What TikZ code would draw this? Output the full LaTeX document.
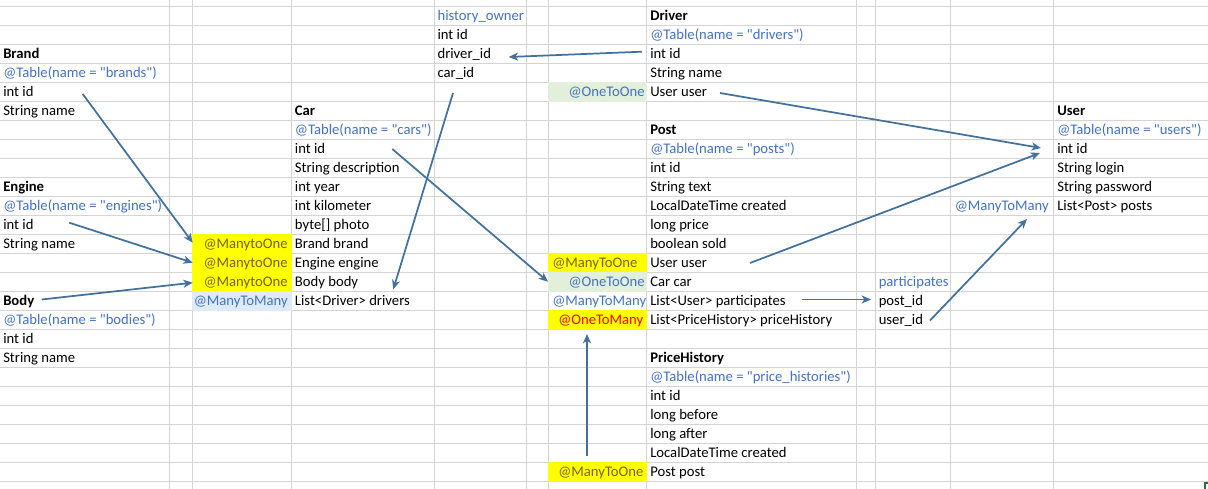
\documentclass[tikz,border=0pt]{standalone}
\usepackage{fontspec}
\setmainfont{Carlito}[Ligatures=TeXOff]
\usetikzlibrary{arrows.meta}
\definecolor{annblue}{RGB}{68,114,196}
\definecolor{arrowblue}{RGB}{65,113,156}
\definecolor{gridgray}{RGB}{212,212,212}
\definecolor{mtotext}{RGB}{128,96,0}
\definecolor{cellyellow}{RGB}{255,255,0}
\definecolor{cellgreen}{RGB}{226,239,218}
\definecolor{cellblue}{RGB}{221,235,247}
\definecolor{selgreen}{RGB}{33,115,70}
\newcommand\cellt[5]{\node[txt,#1] (#2) at ({#3},{20.7+19*#4}) {#5};}
\newcommand\cellfill[4]{\fill[#1] ({#2-0.5},{6+19*#4-0.5}) rectangle ({#3+0.5},{25+19*#4+0.5});}
\begin{document}
\begin{tikzpicture}[x=0.75pt,y=-0.75pt,
  txt/.style={anchor=base west, inner sep=0pt, font=\fontsize{11}{13}\selectfont},
  hdr/.style={font=\fontsize{11}{13}\selectfont\bfseries},
  ann/.style={text=annblue},
  mto/.style={text=mtotext},
  otm/.style={text=red},
  gridline/.style={draw=gridgray, line width=0.75pt},
  arr/.style={draw=arrowblue, line width=1.3pt, -{Stealth[length=7pt,width=6pt,inset=2pt]}}]
\useasboundingbox (0,0) rectangle (1208,489);
\fill[white] (0,0) rectangle (1208,489);
% grid
\foreach \k in {0,...,25} \draw[gridline] (0,{6+19*\k}) -- (1208,{6+19*\k});
\foreach \xx in {169,192.7,291.7,434.3,526.7,548.3,646.5,856,875.5,950.5,1053.7}
  \draw[gridline] (\xx,0) -- (\xx,489);
% fills
\cellfill{cellyellow}{192.7}{291.7}{12}
\cellfill{cellyellow}{192.7}{291.7}{13}
\cellfill{cellyellow}{192.7}{291.7}{14}
\cellfill{cellblue}{192.7}{291.7}{15}
\cellfill{cellgreen}{548.3}{646.5}{4}
\cellfill{cellyellow}{548.3}{646.5}{13}
\cellfill{cellgreen}{548.3}{646.5}{14}
\cellfill{cellyellow}{548.3}{646.5}{16}
\cellfill{cellyellow}{548.3}{646.5}{24}
% column A
\cellt{hdr}{brand}{3}{2}{Brand}
\cellt{ann}{brandT}{3}{3}{@Table(name = "brands")}
\cellt{}{brandId}{3}{4}{int id}
\cellt{}{brandName}{3}{5}{String name}
\cellt{hdr}{engine}{3}{9}{Engine}
\cellt{ann}{engineT}{3}{10}{@Table(name = "engines")}
\cellt{}{engineId}{3}{11}{int id}
\cellt{}{engineName}{3}{12}{String name}
\cellt{hdr}{body}{3}{15}{Body}
\cellt{ann}{bodyT}{3}{16}{@Table(name = "bodies")}
\cellt{}{bodyId}{3}{17}{int id}
\cellt{}{bodyName}{3}{18}{String name}
% column C
\cellt{mto}{mtoBrand}{203.3}{12}{@ManytoOne}
\cellt{mto}{mtoEngine}{203.3}{13}{@ManytoOne}
\cellt{mto}{mtoBody}{203.3}{14}{@ManytoOne}
\cellt{ann}{mtmDrivers}{193.5}{15}{@ManyToMany}
% column D
\cellt{hdr}{car}{294.7}{5}{Car}
\cellt{ann}{carT}{294.7}{6}{@Table(name = "cars")}
\cellt{}{carId}{294.7}{7}{int id}
\cellt{}{carDesc}{294.7}{8}{String description}
\cellt{}{carYear}{294.7}{9}{int year}
\cellt{}{carKm}{294.7}{10}{int kilometer}
\cellt{}{carPhoto}{294.7}{11}{byte[] photo}
\cellt{}{carBrand}{294.7}{12}{Brand brand}
\cellt{}{carEngine}{294.7}{13}{Engine engine}
\cellt{}{carBody}{294.7}{14}{Body body}
\cellt{}{carDrivers}{294.7}{15}{List<Driver> drivers}
% column E
\cellt{ann}{ho}{437.3}{0}{history\_owner}
\cellt{}{hoId}{437.3}{1}{int id}
\cellt{}{hoDriver}{437.3}{2}{driver\_id}
\cellt{}{hoCar}{437.3}{3}{car\_id}
% column G
\cellt{ann}{otoUser}{568.3}{4}{@OneToOne}
\cellt{mto}{mtoUser}{552}{13}{@ManyToOne}
\cellt{ann}{otoCar}{568.3}{14}{@OneToOne}
\cellt{ann}{mtmPart}{552}{15}{@ManyToMany}
\cellt{otm}{otmPH}{558}{16}{@OneToMany}
\cellt{mto}{mtoPost}{558}{24}{@ManyToOne}
% column H
\cellt{hdr}{driver}{650}{0}{Driver}
\cellt{ann}{driverT}{650}{1}{@Table(name = "drivers")}
\cellt{}{driverId}{650}{2}{int id}
\cellt{}{driverName}{650}{3}{String name}
\cellt{}{driverUser}{650}{4}{User user}
\cellt{hdr}{post}{650}{6}{Post}
\cellt{ann}{postT}{650}{7}{@Table(name = "posts")}
\cellt{}{postId}{650}{8}{int id}
\cellt{}{postText}{650}{9}{String text}
\cellt{}{postCreated}{650}{10}{LocalDateTime created}
\cellt{}{postPrice}{650}{11}{long price}
\cellt{}{postSold}{650}{12}{boolean sold}
\cellt{}{postUser}{650}{13}{User user}
\cellt{}{postCar}{650}{14}{Car car}
\cellt{}{postPart}{650}{15}{List<User> participates}
\cellt{}{postPH}{650}{16}{List<PriceHistory> priceHistory}
\cellt{hdr}{ph}{650}{18}{PriceHistory}
\cellt{ann}{phT}{650}{19}{@Table(name = "price\_histories")}
\cellt{}{phId}{650}{20}{int id}
\cellt{}{phBefore}{650}{21}{long before}
\cellt{}{phAfter}{650}{22}{long after}
\cellt{}{phCreated}{650}{23}{LocalDateTime created}
\cellt{}{phPost}{650}{24}{Post post}
% column J
\cellt{ann}{part}{878.5}{14}{participates}
\cellt{}{partPost}{878.5}{15}{post\_id}
\cellt{}{partUser}{878.5}{16}{user\_id}
% column K
\cellt{ann}{mtmPosts}{954.5}{10}{@ManyToMany}
% column L
\cellt{hdr}{user}{1057}{5}{User}
\cellt{ann}{userT}{1057}{6}{@Table(name = "users")}
\cellt{}{userId}{1057}{7}{int id}
\cellt{}{userLogin}{1057}{8}{String login}
\cellt{}{userPass}{1057}{9}{String password}
\cellt{}{userPosts}{1057}{10}{List<Post> posts}
% connector end points
\coordinate (a1s) at (82.7,94);   \coordinate (a1e) at (192.7,242.7);
\coordinate (a2s) at (69.3,222.7); \coordinate (a2e) at (192.7,262.7);
\coordinate (a3s) at (41.7,299.5); \coordinate (a3e) at (192.7,282.7);
\coordinate (a4s) at (453,93);    \coordinate (a4e) at (393.3,289.3);
\coordinate (a5s) at (392.3,149); \coordinate (a5e) at (548,281.7);
\coordinate (a6s) at (642,51.7);  \coordinate (a6e) at (508.7,57);
\coordinate (a7s) at (720,93);    \coordinate (a7e) at (1041,148);
\coordinate (a8s) at (750,263);   \coordinate (a8e) at (1040,153);
\coordinate (a9s) at (930,320.5); \coordinate (a9e) at (1027,219);
\coordinate (a10s) at (802,299.5); \coordinate (a10e) at (871,299.5);
\coordinate (a11s) at (587,456);  \coordinate (a11e) at (587,334);
\foreach \i in {1,...,11} \draw[arr] (a\i s) -- (a\i e);
% selected-cell corner
\draw[selgreen, line width=1.5pt] (1205,489) -- (1205,482.5) -- (1208,482.5);
\end{tikzpicture}
\end{document}
